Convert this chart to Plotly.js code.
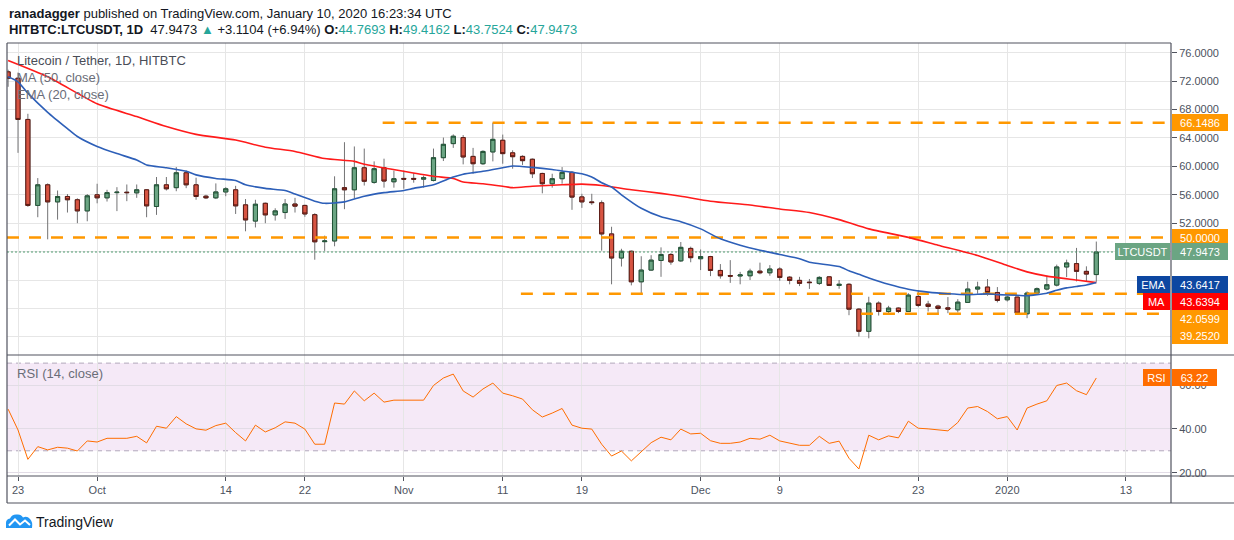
<!DOCTYPE html>
<html><head><meta charset="utf-8">
<script src="https://cdn.plot.ly/plotly-3.0.1.min.js"></script>
<style>html,body{margin:0;padding:0;background:#fff;}#chart{width:1234px;height:540px;}</style>
</head><body><div id="chart"></div>
<script>
// ---------- DATA ----------
const dates = [
'2019-09-22','2019-09-23','2019-09-24','2019-09-25','2019-09-26','2019-09-27','2019-09-28','2019-09-29','2019-09-30',
'2019-10-01','2019-10-02','2019-10-03','2019-10-04','2019-10-05','2019-10-06','2019-10-07','2019-10-08','2019-10-09','2019-10-10',
'2019-10-11','2019-10-12','2019-10-13','2019-10-14','2019-10-15','2019-10-16','2019-10-17','2019-10-18','2019-10-19','2019-10-20',
'2019-10-21','2019-10-22','2019-10-23','2019-10-24','2019-10-25','2019-10-26','2019-10-27','2019-10-28','2019-10-29','2019-10-30','2019-10-31',
'2019-11-01','2019-11-02','2019-11-03','2019-11-04','2019-11-05','2019-11-06','2019-11-07','2019-11-08','2019-11-09','2019-11-10',
'2019-11-11','2019-11-12','2019-11-13','2019-11-14','2019-11-15','2019-11-16','2019-11-17','2019-11-18','2019-11-19','2019-11-20',
'2019-11-21','2019-11-22','2019-11-23','2019-11-24','2019-11-25','2019-11-26','2019-11-27','2019-11-28','2019-11-29','2019-11-30',
'2019-12-01','2019-12-02','2019-12-03','2019-12-04','2019-12-05','2019-12-06','2019-12-07','2019-12-08','2019-12-09','2019-12-10',
'2019-12-11','2019-12-12','2019-12-13','2019-12-14','2019-12-15','2019-12-16','2019-12-17','2019-12-18','2019-12-19','2019-12-20',
'2019-12-21','2019-12-22','2019-12-23','2019-12-24','2019-12-25','2019-12-26','2019-12-27','2019-12-28','2019-12-29','2019-12-30','2019-12-31',
'2020-01-01','2020-01-02','2020-01-03','2020-01-04','2020-01-05','2020-01-06','2020-01-07','2020-01-08','2020-01-09','2020-01-10'];

const opens = [
73.3,72.4,66.6,54.5,57.4,55.0,55.76,55.3,53.73,
56.0,55.57,56.3,56.36,56.27,56.7,54.35,57.4,57.0,59.1,
57.4,55.8,55.57,56.4,56.7,54.58,52.3,54.8,53.17,53.5,
54.7,54.5,53.2,49.4,49.5,57.0,56.7,59.8,57.74,59.8,57.83,
58.3,58.3,58.2,58.02,61.22,63.2,64.05,61.4,60.37,62.03,
63.67,61.9,61.4,61.0,59.0,57.55,58.26,59.15,55.7,55.0,
54.87,50.49,47.1,48.05,43.75,45.4,46.75,47.6,46.7,48.45,
47.0,47.3,45.35,44.63,44.57,44.6,45.25,45.02,45.55,44.4,
43.95,43.7,43.53,44.45,43.24,43.4,39.9,36.78,40.75,39.57,
40.05,39.57,41.69,40.61,40.33,40.09,39.81,40.85,42.73,43.01,42.25,
41.22,41.6,39.25,42.16,42.73,43.29,45.84,46.31,45.22,44.7693];

const highs = [
73.6,73.2,67.4,58.35,57.6,56.6,56.1,55.5,56.1,
57.55,56.7,57.07,57.45,57.45,56.8,58.5,58.5,59.9,59.43,
58.4,56.0,57.6,57.07,57.26,55.4,55.3,54.9,54.1,55.4,
55.57,54.6,53.4,50.25,58.6,63.4,62.8,62.5,60.7,61.08,59.4,
59.4,59.05,58.7,62.5,64.05,64.5,64.4,62.6,62.26,66.15,
64.47,62.26,61.55,61.1,59.1,58.96,59.9,59.34,56.14,56.14,
55.2,51.5,48.4,48.15,47.35,47.5,48.6,47.8,49.35,48.7,
48.3,47.4,46.25,46.8,45.15,45.6,46.45,46.1,45.8,44.55,
44.45,44.15,44.55,44.55,44.0,43.55,40.05,41.65,41.0,40.37,
40.15,42.15,42.54,41.08,40.52,41.6,41.31,43.76,43.76,44.14,43.01,
41.79,41.65,42.4,42.96,44.61,46.17,46.87,48.52,45.93,49.4162];

const lows = [
71.2,61.9,54.3,52.84,49.73,52.5,53.5,52.0,52.27,
54.8,55.05,53.7,55.1,55.57,52.84,53.17,56.6,56.5,56.93,
55.3,55.4,55.4,55.8,53.3,50.86,51.4,52.0,52.37,52.6,
53.5,52.9,46.86,48.1,48.75,53.97,55.5,57.3,57.55,57.0,57.0,
56.85,57.7,57.0,57.88,60.75,62.6,60.28,58.96,60.2,60.7,
60.37,59.67,60.2,58.35,56.2,57.0,57.55,53.88,54.16,54.58,
48.13,43.4,45.9,43.25,41.9,45.3,44.45,46.15,46.55,46.5,
45.4,44.55,44.2,43.6,43.4,44.0,44.8,44.6,43.9,43.4,
43.15,42.75,43.3,43.2,42.77,39.05,36.05,35.8,39.0,39.1,
39.35,39.5,40.18,39.57,39.33,39.33,39.43,40.8,42.07,41.79,40.85,
40.98,39.1,38.63,41.93,42.54,43.1,44.42,43.81,43.81,43.7524];

const closes = [
72.4,66.6,54.5,57.4,55.0,55.76,55.3,53.73,55.85,
55.57,56.3,56.36,56.3,56.7,54.44,57.4,56.84,59.1,57.4,
55.76,55.57,56.4,56.84,54.44,52.46,54.67,53.17,53.73,54.7,
54.4,53.3,49.38,49.5,56.84,56.7,59.8,57.9,59.67,57.93,58.26,
58.2,58.2,58.4,61.22,63.1,64.24,61.32,60.37,62.1,63.8,
61.79,61.36,60.8,58.96,57.55,58.26,59.15,55.67,55.0,54.9,
50.49,47.1,48.05,43.75,45.4,46.8,47.6,46.55,48.6,47.15,
47.3,45.35,44.6,44.55,44.72,45.25,45.02,45.55,44.37,43.95,
43.53,43.64,44.37,43.24,43.4,39.9,36.78,40.75,39.57,40.05,
39.57,41.88,40.42,40.28,40.0,39.9,40.89,42.73,43.01,42.25,41.13,
41.6,39.34,42.16,42.78,43.34,45.84,46.4,45.22,44.84,47.9473];

const rsiValues = [
49.0,39.5,26.1,31.9,30.4,31.6,31.2,29.9,34.5,
34.0,35.7,35.7,35.7,36.6,33.6,41.2,40.3,45.6,42.3,
40.0,39.4,41.5,42.6,38.3,34.5,41.7,38.6,40.5,43.2,
42.6,39.9,33.0,33.0,51.8,51.3,57.3,52.8,56.3,52.2,53.1,
53.1,53.1,53.1,59.8,63.2,65.0,57.3,54.5,58.2,60.9,
56.3,55.1,53.6,48.7,45.4,47.2,49.3,41.7,40.3,39.9,
33.0,27.6,29.9,25.4,29.6,33.7,36.2,35.0,39.9,37.7,
38.0,34.6,33.4,33.4,34.0,35.7,35.3,37.1,34.5,33.4,
32.5,32.5,36.6,33.4,34.4,26.6,21.7,37.1,35.0,36.8,
35.9,43.5,40.3,40.0,39.5,39.1,42.9,49.5,50.2,47.9,44.6,
45.6,39.5,49.5,51.3,52.8,59.8,60.9,57.4,55.6,63.22];

const maDates = ['2019-09-22','2019-09-26','2019-10-01','2019-10-05','2019-10-08','2019-10-11','2019-10-15','2019-10-18','2019-10-21','2019-10-24',
'2019-10-27','2019-10-28','2019-11-01','2019-11-04','2019-11-06','2019-11-07','2019-11-09','2019-11-11','2019-11-12','2019-11-14',
'2019-11-17','2019-11-19','2019-11-21','2019-11-24','2019-11-27','2019-11-29','2019-12-02','2019-12-06','2019-12-09','2019-12-12',
'2019-12-15','2019-12-18','2019-12-22','2019-12-25','2019-12-29','2020-01-01','2020-01-03','2020-01-05','2020-01-08','2020-01-10'];
const maValues = [74.9,72.6,68.8,67.0,65.6,64.5,63.7,62.7,62.1,61.1,
60.7,60.3,59.3,58.6,58.3,57.8,57.55,57.2,57.0,57.2,
57.4,57.5,57.3,56.7,56.2,55.8,55.1,54.55,54.0,53.5,
52.5,51.2,50.0,48.9,47.45,46.05,45.15,44.55,44.0,43.6394];

const emaDates = ['2019-09-22','2019-09-23','2019-09-24','2019-09-26','2019-09-28','2019-09-29','2019-10-01','2019-10-03','2019-10-05','2019-10-06',
'2019-10-08','2019-10-10','2019-10-11','2019-10-13','2019-10-15','2019-10-16','2019-10-18','2019-10-20','2019-10-21','2019-10-23',
'2019-10-24','2019-10-26','2019-10-28','2019-10-30','2019-11-01','2019-11-02','2019-11-04','2019-11-06','2019-11-07','2019-11-09',
'2019-11-11','2019-11-12','2019-11-14','2019-11-16','2019-11-17','2019-11-19','2019-11-20','2019-11-21','2019-11-22','2019-11-23',
'2019-11-25','2019-11-27','2019-11-29','2019-12-01','2019-12-03','2019-12-05','2019-12-07','2019-12-09','2019-12-11','2019-12-12',
'2019-12-15','2019-12-16','2019-12-17','2019-12-18','2019-12-20','2019-12-22','2019-12-24','2019-12-26','2019-12-28','2019-12-30',
'2019-12-31','2020-01-02','2020-01-03','2020-01-04','2020-01-05','2020-01-06','2020-01-07','2020-01-08','2020-01-09','2020-01-10'];
const emaValues = [72.6,71.9,70.3,67.6,65.3,64.2,62.8,61.8,60.9,60.2,
59.8,59.3,58.8,58.3,58.0,57.4,56.9,56.6,56.1,55.1,
54.8,55.0,55.8,56.3,56.6,56.9,57.4,58.5,58.9,59.3,
59.8,60.05,59.85,59.55,59.35,58.95,58.5,57.7,57.1,56.0,
54.1,52.9,52.2,51.2,49.8,48.9,48.2,47.6,47.0,46.5,
45.9,45.3,44.8,44.3,43.4,42.7,42.3,42.07,41.95,42.05,
41.95,41.85,41.8,41.95,42.15,42.55,42.9,43.1,43.3,43.6417];

const levelValues = [66.1486, 50.0000, 42.0599, 39.2520];
const levelStarts = ['2019-10-29 20:40','2019-09-21 21:19','2019-11-12 20:00','2019-12-17 05:00'];
const levelEnd = '2020-01-16 22:00';
const lastPrice = 47.9473;
const emaLast = 43.6417, maLast = 43.6394, rsiLast = 63.22;

const tickDates = ['2019-09-23','2019-10-01','2019-10-14','2019-10-22','2019-11-01','2019-11-11','2019-11-19','2019-12-01','2019-12-09','2019-12-23','2020-01-01','2020-01-13'];
const tickLabels = ['23','Oct','14','22','Nov','11','19','Dec','9','23','2020','13'];
const priceTicks = [36,40,44,48,52,56,60,64,68,72,76];
const rsiTicks = [20,40,60];
const rsiBand = [30,70];

// ---------- LAYOUT HELPERS ----------
const W = 1234, H = 540, L = 7, R = 63, T = 43, B = 64;
const PW = W - L - R, PH = H - T - B;
const px = v => (v - L) / PW;
const py = v => (H - B - v) / PH;
const FONT = 'Liberation Sans, Arial, sans-serif';
const xRange = ['2019-09-21 21:19', '2020-01-17 13:12'];

const bodyHigh = opens.map((o, i) => Math.max(o, closes[i]));
const bodyLow = opens.map((o, i) => Math.min(o, closes[i]));

const traces = [];
// level lines
levelValues.forEach((v, i) => {
  traces.push({type:'scatter', mode:'lines', x:[levelStarts[i], levelEnd], y:[v, v],
    line:{color:'#ff9800', width:2.5, dash:'12px,10px'}, hoverinfo:'skip', xaxis:'x', yaxis:'y'});
});
// last price dotted line
traces.push({type:'scatter', mode:'lines', x:[xRange[0], xRange[1]], y:[lastPrice, lastPrice],
  line:{color:'#4e9a70', width:1, dash:'2px,2px'}, hoverinfo:'skip', xaxis:'x', yaxis:'y'});
// wicks
traces.push({type:'candlestick', x:dates, open:opens, high:highs, low:lows, close:closes,
  increasing:{line:{color:'#737375', width:1}, fillcolor:'#737375'},
  decreasing:{line:{color:'#737375', width:1}, fillcolor:'#737375'},
  whiskerwidth:0, hoverinfo:'skip', xaxis:'x', yaxis:'y'});
// bodies
traces.push({type:'candlestick', x:dates, open:opens, high:bodyHigh, low:bodyLow, close:closes,
  increasing:{line:{color:'#225437', width:1}, fillcolor:'#6ba583'},
  decreasing:{line:{color:'#5b1a13', width:1}, fillcolor:'#d75442'},
  whiskerwidth:0, hoverinfo:'skip', xaxis:'x', yaxis:'y'});
// MA & EMA
traces.push({type:'scatter', mode:'lines', x:maDates, y:maValues, line:{color:'#ff1a1a', width:1.6, shape:'spline', smoothing:0.6}, hoverinfo:'skip', xaxis:'x', yaxis:'y'});
traces.push({type:'scatter', mode:'lines', x:emaDates, y:emaValues, line:{color:'#2d5fb8', width:1.6, shape:'spline', smoothing:0.6}, hoverinfo:'skip', xaxis:'x', yaxis:'y'});
// RSI
traces.push({type:'scatter', mode:'lines', x:dates, y:rsiValues, line:{color:'#ff6d00', width:1}, hoverinfo:'skip', xaxis:'x', yaxis:'y2'});

const frameColor = '#50535e';
const hline = (y, x0, x1) => ({type:'line', xref:'paper', yref:'paper', x0:px(x0), x1:px(x1), y0:py(y), y1:py(y), line:{color:frameColor, width:1.2}, layer:'above'});
const vline = (x, y0, y1) => ({type:'line', xref:'paper', yref:'paper', x0:px(x), x1:px(x), y0:py(y0), y1:py(y1), line:{color:frameColor, width:1.2}, layer:'above'});

function pathPx(cmds) {
  return cmds.map(c => typeof c === 'string' ? c : (px(c[0]).toFixed(5) + ',' + py(c[1]).toFixed(5))).join(' ');
}

const shapes = [
  {type:'rect', xref:'paper', yref:'y2', x0:0, x1:1, y0:rsiBand[0], y1:rsiBand[1], fillcolor:'rgba(156,39,176,0.1)', line:{width:0}, layer:'below'},
  {type:'line', xref:'paper', yref:'y2', x0:0, x1:1, y0:rsiBand[0], y1:rsiBand[0], line:{color:'#b2a8bb', width:1, dash:'5px,4px'}, layer:'below'},
  {type:'line', xref:'paper', yref:'y2', x0:0, x1:1, y0:rsiBand[1], y1:rsiBand[1], line:{color:'#b2a8bb', width:1, dash:'5px,4px'}, layer:'below'},
  hline(43, 7, 1171), hline(355, 7, 1234), hline(476, 7, 1234), hline(503, 7, 1234),
  vline(7, 43, 503), vline(1171, 43, 503),
  // TradingView logo icon
  {type:'path', xref:'paper', yref:'paper', layer:'above', fillcolor:'#2196f3', line:{width:0},
   path: pathPx(['M',[6,528],'L',[6,523],'Q',[6,519],[10,518.5],'Q',[12,514],[17,514.5],'Q',[21,514],[23,517.5],'Q',[27,515.5],[30,519],'Q',[33,522],[32,528],'Z'])},
  {type:'path', xref:'paper', yref:'paper', layer:'above', line:{color:'#ffffff', width:2},
   path: pathPx(['M',[9,525.5],'L',[15,519.5],'L',[20,524.5],'L',[25,520.5],'L',[30,525]])}
];

function label(text, yVal, yref, xLeftPx, widthPx, bg, anchor, yshift) {
  return {xref:'paper', yref:yref, x:px(xLeftPx), y:yVal, xanchor:anchor, yanchor:'middle',
    text:text, showarrow:false, bgcolor:bg, borderpad:2, borderwidth:0, width:widthPx, height:13,
    align:'center', yshift:yshift || 0, font:{family:FONT, size:11, color:'#ffffff'}};
}
const ORANGE = '#ff9800';
const annotations = [
  {xref:'paper', yref:'paper', x:0, y:py(13.5), xanchor:'left', yanchor:'middle', showarrow:false,
   text:'<b>ranadagger</b> published on TradingView.com, January 10, 2020 16:23:34 UTC', font:{family:FONT, size:13, color:'#131722'}},
  {xref:'paper', yref:'paper', x:0, y:py(29), xanchor:'left', yanchor:'middle', showarrow:false,
   text:'<b>HITBTC:LTCUSDT, 1D</b>  47.9473 <span style="color:#26a69a">▲</span> +3.1104 (+6.94%) <b>O:</b><span style="color:#26a69a">44.7693</span> <b>H:</b><span style="color:#26a69a">49.4162</span> <b>L:</b><span style="color:#26a69a">43.7524</span> <b>C:</b><span style="color:#26a69a">47.9473</span>',
   font:{family:FONT, size:13, color:'#131722'}},
  {xref:'paper', yref:'paper', x:px(15), y:py(60.5), xanchor:'left', yanchor:'middle', showarrow:false,
   text:'Litecoin / Tether, 1D, HITBTC', font:{family:FONT, size:13, color:'#4a4d57'}},
  {xref:'paper', yref:'paper', x:px(15), y:py(77.5), xanchor:'left', yanchor:'middle', showarrow:false,
   text:'MA (50, close)', font:{family:FONT, size:13, color:'#6a6d78'}},
  {xref:'paper', yref:'paper', x:px(15), y:py(94.5), xanchor:'left', yanchor:'middle', showarrow:false,
   text:'EMA (20, close)', font:{family:FONT, size:13, color:'#6a6d78'}},
  {xref:'paper', yref:'paper', x:px(15), y:py(373), xanchor:'left', yanchor:'middle', showarrow:false,
   text:'RSI (14, close)', font:{family:FONT, size:13, color:'#6a6d78'}},
  {xref:'paper', yref:'paper', x:px(34), y:py(521.5), xanchor:'left', yanchor:'middle', showarrow:false,
   text:'TradingView', font:{family:FONT, size:14, color:'#131722'}},
  // right-side labels
  label(levelValues[0].toFixed(4), levelValues[0], 'y', 1172, 52, ORANGE, 'left'),
  label(levelValues[1].toFixed(4), levelValues[1], 'y', 1172, 52, ORANGE, 'left'),
  label(lastPrice.toFixed(4), lastPrice, 'y', 1172, 52, '#6ba583', 'left'),
  label('LTCUSDT', lastPrice, 'y', 1170, 51, '#6ba583', 'right'),
  label(emaLast.toFixed(4), emaLast, 'y', 1172, 52, '#0d47a1', 'left', -1.5),
  label('EMA', emaLast, 'y', 1170, 29, '#0d47a1', 'right', -1.5),
  label(maLast.toFixed(4), maLast, 'y', 1172, 52, '#ff0000', 'left', -18.5),
  label('MA', maLast, 'y', 1170, 23, '#ff0000', 'right', -18.5),
  label(levelValues[2].toFixed(4), levelValues[2], 'y', 1172, 52, ORANGE, 'left', -24.5),
  label(levelValues[3].toFixed(4), levelValues[3], 'y', 1172, 52, ORANGE, 'left', -21.5),
  label(rsiLast.toFixed(2), rsiLast, 'y2', 1172, 41, '#ff6d00', 'left'),
  label('RSI', rsiLast, 'y2', 1170, 23, '#ff6d00', 'right')
];

const layout = {
  width:W, height:H, margin:{l:L, r:R, t:T, b:B}, paper_bgcolor:'#ffffff', plot_bgcolor:'#ffffff',
  showlegend:false, hovermode:false, boxgap:0.4,
  xaxis:{type:'date', range:xRange, anchor:'y2', tickmode:'array', tickvals:tickDates, ticktext:tickLabels,
    showgrid:true, gridcolor:'#e6e6e6', gridwidth:1, zeroline:false, showline:false,
    ticks:'outside', ticklen:4, tickcolor:'#50535e', tickfont:{family:FONT, size:11, color:'#4c525e'},
    rangeslider:{visible:false}, fixedrange:true},
  yaxis:{domain:[py(355), 1], range:[33.45, 77.36], side:'right', anchor:'x', tickmode:'array', tickvals:priceTicks,
    ticktext:priceTicks.map(v => v >= 52 ? v.toFixed(4) : ''), showgrid:true, gridcolor:'#e6e6e6', zeroline:false,
    ticks:'outside', ticklen:5, tickcolor:'#50535e', tickfont:{family:FONT, size:11, color:'#4c525e'}, fixedrange:true},
  yaxis2:{domain:[0, py(355)], range:[18.5, 73.7], side:'right', anchor:'x', tickmode:'array', tickvals:rsiTicks,
    ticktext:rsiTicks.map(v => v.toFixed(2)), showgrid:true, gridcolor:'#e2dce6', zeroline:false,
    ticks:'outside', ticklen:5, tickcolor:'#50535e', tickfont:{family:FONT, size:11, color:'#4c525e'}, fixedrange:true},
  shapes:shapes, annotations:annotations
};

Plotly.newPlot('chart', traces, layout, {staticPlot:true, displayModeBar:false});
</script>
</body></html>
